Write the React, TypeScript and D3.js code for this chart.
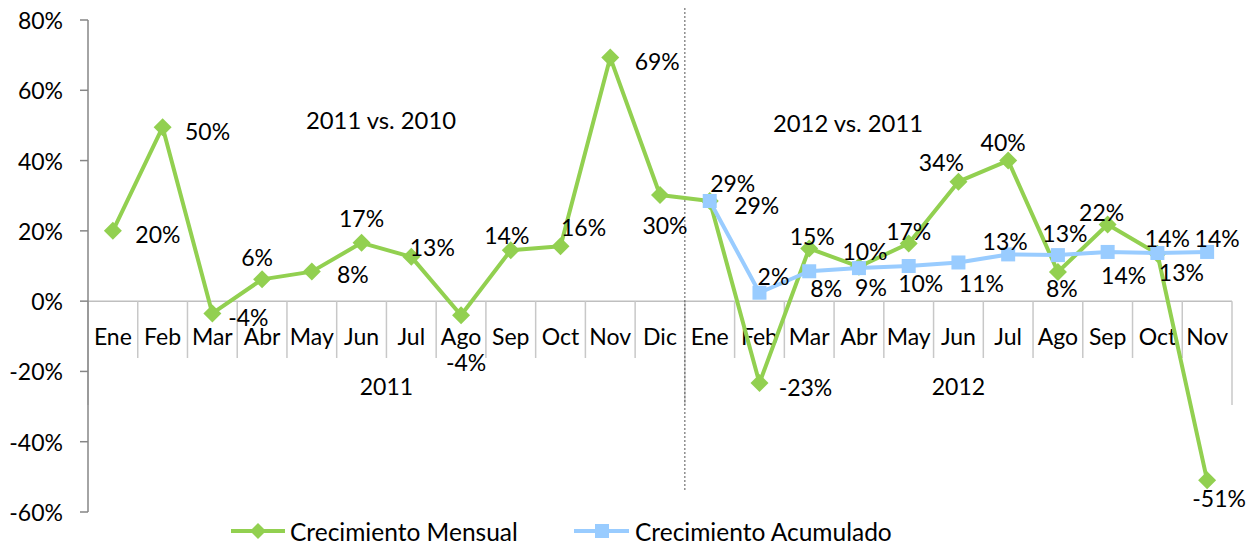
import React from "react";
import * as d3 from "d3";

// ---------- data ----------
const months2011 = ["Ene", "Feb", "Mar", "Abr", "May", "Jun", "Jul", "Ago", "Sep", "Oct", "Nov", "Dic"];
const months2012 = ["Ene", "Feb", "Mar", "Abr", "May", "Jun", "Jul", "Ago", "Sep", "Oct", "Nov"];
const years = ["2011", "2012"];
const periodTitles = ["2011 vs. 2010", "2012 vs. 2011"];

// Crecimiento Mensual (all 23 months)
const mensual = [
  0.20, 0.495, -0.035, 0.062, 0.084, 0.166, 0.126, -0.04, 0.145, 0.156, 0.693, 0.302,
  0.285, -0.233, 0.15, 0.098, 0.164, 0.34, 0.40, 0.083, 0.218, 0.135, -0.51,
];
const mensualLabels = [
  "20%", "50%", "-4%", "6%", "8%", "17%", "13%", "-4%", "14%", "16%", "69%", "30%",
  "29%", "-23%", "15%", "10%", "17%", "34%", "40%", "8%", "22%", "13%", "-51%",
];
// Crecimiento Acumulado (2012 only)
const acumulado = [0.285, 0.024, 0.085, 0.094, 0.10, 0.11, 0.133, 0.131, 0.14, 0.137, 0.14];
const acumuladoLabels = ["29%", "2%", "8%", "9%", "10%", "11%", "13%", "13%", "14%", "14%", "14%"];

const yTicks = [-0.6, -0.4, -0.2, 0, 0.2, 0.4, 0.6, 0.8];
const seriesNames = ["Crecimiento Mensual", "Crecimiento Acumulado"];

// ---------- label placement (layout only) ----------
const mensualOffsets: [number, number][] = [
  [45, 3], [45, 4], [36, 4], [-5, -22], [41, 2], [0, -25], [21, -10], [5, 47], [-4, -15], [23, -19], [47, 3], [5, 30],
  [23, -18], [46, 4], [3, -12], [6, -16], [0, -13], [-17, -20], [-5, -19], [4, 16], [-6, -13], [24, 18], [12, 18],
];
const acumuladoOffsets: [number, number][] = [
  [47, 4], [14, -17], [17, 17], [12, 19], [12, 17], [23, 21], [-3, -13], [7, -22], [16, 23], [10, -15], [10, -14],
];

const GREEN = "#92d050";
const BLUE = "#99ccff";
const FONT = "Lato, 'Open Sans', sans-serif";
const FS = 23;

export default function App() {
  const width = 1251;
  const height = 544;
  const categories = [...months2011, ...months2012];
  const idx = categories.map((_, i) => i);

  const x = d3.scaleBand<number>().domain(idx).range([88, 1232]).padding(0);
  const y = d3.scaleLinear().domain([-0.6, 0.8]).range([512, 20]);
  const cx = (i: number) => (x(i) as number) + x.bandwidth() / 2;

  const lineGen = d3
    .line<[number, number]>()
    .x((d) => cx(d[0]))
    .y((d) => y(d[1]));

  const mensualPts: [number, number][] = mensual.map((v, i) => [i, v]);
  const acumPts: [number, number][] = acumulado.map((v, i) => [i + months2011.length, v]);

  const y0 = y(0);
  const boundaries = d3.range(categories.length + 1).map((i) => 88 + i * x.step());
  const groupIdx = [0, months2011.length, categories.length];
  const splitX = boundaries[months2011.length];

  const diamond = (px: number, py: number, r: number) =>
    `M${px},${py - r}L${px + r},${py}L${px},${py + r}L${px - r},${py}Z`;

  return (
    <svg
      width={width}
      height={height}
      style={{ position: "absolute", left: 0, top: 0, display: "block", background: "#fff" }}
      fontFamily={FONT}
      fontSize={FS}
    >
      {/* zero line */}
      <line x1={88} x2={1232} y1={y0} y2={y0} stroke="#bfbfbf" strokeWidth={1.5} />
      {/* category separators */}
      {boundaries.map((bx, i) => {
        const isGroup = groupIdx.includes(i);
        return (
          <line
            key={"sep" + i}
            x1={bx}
            x2={bx}
            y1={y0}
            y2={isGroup ? 405 : 358}
            stroke="#c8c8c8"
            strokeWidth={1.5}
          />
        );
      })}
      {/* y axis */}
      <line x1={88} x2={88} y1={y(0.8)} y2={y(-0.6)} stroke="#868686" strokeWidth={1.5} />
      {yTicks.map((t) => (
        <g key={"yt" + t}>
          <line x1={80} x2={88} y1={y(t)} y2={y(t)} stroke="#868686" strokeWidth={1.5} />
          <text x={63} y={y(t)} textAnchor="end" dominantBaseline="central" fill="#000">
            {`${Math.round(t * 100)}%`}
          </text>
        </g>
      ))}
      {/* category labels */}
      {categories.map((c, i) => (
        <text key={"cat" + i} x={cx(i)} y={336} textAnchor="middle" dominantBaseline="central">
          {c}
        </text>
      ))}
      {/* year labels */}
      {years.map((yr, g) => (
        <text
          key={"yr" + yr}
          x={(boundaries[groupIdx[g]] + boundaries[groupIdx[g + 1]]) / 2}
          y={386}
          textAnchor="middle"
          dominantBaseline="central"
        >
          {yr}
        </text>
      ))}
      {/* dashed split line */}
      <line x1={splitX} x2={splitX} y1={8} y2={490} stroke="#555" strokeWidth={1} strokeDasharray="2,2" />
      {/* period titles */}
      <text x={381} y={120} textAnchor="middle" dominantBaseline="central" fontSize={23.8}>
        {periodTitles[0]}
      </text>
      <text x={848} y={123} textAnchor="middle" dominantBaseline="central" fontSize={23.8}>
        {periodTitles[1]}
      </text>

      {/* Mensual series */}
      <path d={lineGen(mensualPts) || ""} fill="none" stroke={GREEN} strokeWidth={4} strokeLinejoin="round" />
      {mensualPts.map(([i, v]) => (
        <path key={"md" + i} d={diamond(cx(i), y(v), 9)} fill={GREEN} />
      ))}
      {/* Acumulado series */}
      <path d={lineGen(acumPts) || ""} fill="none" stroke={BLUE} strokeWidth={4} strokeLinejoin="round" />
      {acumPts.map(([i, v]) => (
        <rect key={"as" + i} x={cx(i) - 7} y={y(v) - 7} width={14} height={14} fill={BLUE} />
      ))}

      {/* data labels */}
      {mensualPts.map(([i, v]) => (
        <text
          key={"ml" + i}
          x={cx(i) + mensualOffsets[i][0]}
          y={y(v) + mensualOffsets[i][1]}
          textAnchor="middle"
          dominantBaseline="central"
        >
          {mensualLabels[i]}
        </text>
      ))}
      {acumPts.map(([i, v], k) => (
        <text
          key={"al" + i}
          x={cx(i) + acumuladoOffsets[k][0]}
          y={y(v) + acumuladoOffsets[k][1]}
          textAnchor="middle"
          dominantBaseline="central"
        >
          {acumuladoLabels[k]}
        </text>
      ))}

      {/* legend */}
      <g fontSize={24.5}>
        <line x1={231} x2={285} y1={531} y2={531} stroke={GREEN} strokeWidth={4} />
        <path d={diamond(258, 531, 8)} fill={GREEN} />
        <text x={290} y={531} dominantBaseline="central">
          {seriesNames[0]}
        </text>
        <line x1={574} x2={629} y1={531} y2={531} stroke={BLUE} strokeWidth={4} />
        <rect x={595} y={524} width={14} height={14} fill={BLUE} />
        <text x={635} y={531} dominantBaseline="central">
          {seriesNames[1]}
        </text>
      </g>
    </svg>
  );
}
